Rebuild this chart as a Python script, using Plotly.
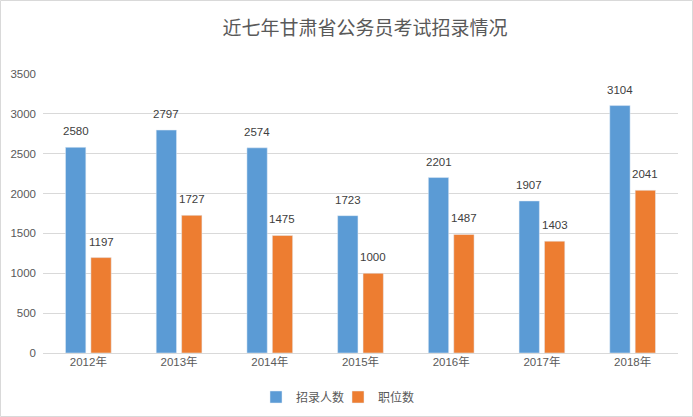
import plotly.graph_objects as go

years = ["2012年", "2013年", "2014年", "2015年", "2016年", "2017年", "2018年"]
recruits = [2580, 2797, 2574, 1723, 2201, 1907, 3104]
positions = [1197, 1727, 1475, 1000, 1487, 1403, 2041]
series_names = ["招录人数", "职位数"]
title_text = "近七年甘肃省公务员考试招录情况"

W, H = 693, 417
ML, MR, MT, MB = 43, 15, 74, 64
PW, PH = W - ML - MR, H - MT - MB

FONT = "Liberation Sans, Noto Sans CJK SC, sans-serif"
TXT = "#595959"
BLUE = "#5B9BD5"
ORANGE = "#ED7D31"
GRID = "#D9D9D9"

fig = go.Figure()
fig.add_trace(go.Bar(name=series_names[0], x=years, y=recruits, marker_color=BLUE,
                     offsetgroup="a", legend="legend"))
fig.add_trace(go.Bar(name=series_names[1], x=years, y=positions, marker_color=ORANGE,
                     offsetgroup="b", legend="legend2"))

bargap = 0.44
bgg = 0.2
slot_px = PW / len(years) * (1 - bargap) / 2

annotations = []
for vals, sign in ((recruits, -1), (positions, 1)):
    for cat, v in zip(years, vals):
        annotations.append(dict(
            x=cat, y=v, xref="x", yref="y", text=str(v), showarrow=False,
            xanchor="center", yanchor="bottom", yshift=8, xshift=sign * slot_px / 2,
            font=dict(family=FONT, size=11.5, color="#404040")))

legend_common = dict(orientation="h", xref="container", yref="container",
                     xanchor="left", yanchor="middle", y=1 - 397 / H,
                     bgcolor="rgba(0,0,0,0)",
                     font=dict(family=FONT, size=12, color=TXT), itemwidth=30)

fig.update_layout(
    width=W, height=H,
    margin=dict(l=ML, r=MR, t=MT, b=MB, pad=0, autoexpand=False),
    paper_bgcolor="white", plot_bgcolor="white",
    barmode="group", bargap=bargap, bargroupgap=bgg,
    title=dict(text=title_text, x=365 / W, xanchor="center", y=1 - 28 / H,
               yanchor="middle", xref="container", yref="container",
               font=dict(family="Noto Sans CJK SC, sans-serif", size=19, color=TXT)),
    font=dict(family=FONT, size=11.5, color=TXT),
    showlegend=True,
    legend=dict(legend_common, x=256 / W),
    legend2=dict(legend_common, x=338 / W),
    annotations=annotations,
    shapes=[dict(type="rect", xref="paper", yref="paper",
                 x0=(0.5 - ML) / PW, x1=(W - 0.5 - ML) / PW,
                 y0=-(H - 0.5 - MT - PH) / PH, y1=(MT - 0.5) / PH + 1,
                 line=dict(color=GRID, width=1), layer="below")],
)
fig.update_xaxes(showgrid=False, showline=False, ticks="", automargin=False,
                 tickfont=dict(size=11.5, color=TXT))
fig.update_yaxes(range=[0, 3500], dtick=500, showgrid=True, gridcolor=GRID, gridwidth=1,
                 zeroline=True, zerolinecolor=GRID, zerolinewidth=1, ticks="", automargin=False,
                 ticklabelstandoff=6, tickfont=dict(size=11.5, color=TXT), showline=False)

fig.write_html("out.html", config={"displayModeBar": False},
               post_script="document.body.style.margin='0';document.body.style.padding='0';"
                           "document.body.style.overflow='hidden';")
